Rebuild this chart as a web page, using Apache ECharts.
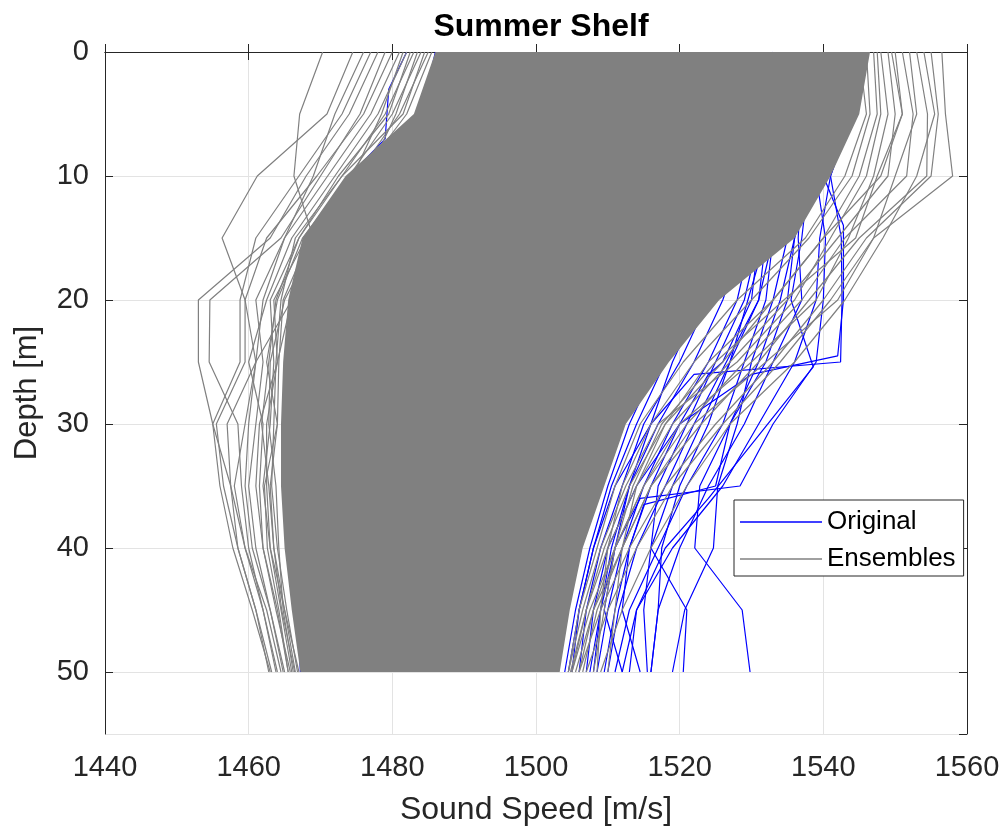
<!DOCTYPE html>
<html>
<head>
<meta charset="utf-8">
<title>Summer Shelf</title>
<script src="https://cdn.jsdelivr.net/npm/echarts@6/dist/echarts.min.js"></script>
<style>
  html, body { margin: 0; padding: 0; background: #fff; }
  #chart { width: 1008px; height: 834px; }
</style>
</head>
<body>
<div id="chart"></div>
<script>
var depths = [0, 5, 10, 15, 20, 25, 30, 35, 40, 45, 50];
var xTicks = [1440, 1560, 20];
var yTicks = [0, 55, 10];

// dense part of the ensemble cloud, left and right edge at each depth
var coreLeft = [1486, 1483, 1473.5, 1467.5, 1465.5, 1464.8, 1464.5, 1464.5, 1465, 1466, 1467.2];
var coreRight = [1546.5, 1545, 1541, 1536, 1525.5, 1518.5, 1512.5, 1509.5, 1506.5, 1504.7, 1503.3];

// ensemble profiles that stick out of the cloud (speed at each depth)
var ensembleSpeeds = [
  [1470.3, 1467.1, 1466.3, 1469, 1466, 1461, 1457, 1457.5, 1459.5, 1462, 1464],
  [1474.5, 1470.9, 1461.2, 1456.3, 1459.5, 1459.5, 1455.5, 1456.5, 1458.5, 1461, 1463.2],
  [1478, 1474, 1468, 1463, 1453, 1453, 1455, 1457.5, 1458.5, 1461, 1462.8],
  [1479, 1475.5, 1470, 1464.5, 1454.6, 1454.5, 1458.5, 1459, 1460, 1462, 1463.8],
  [1477, 1473, 1467, 1461, 1458.8, 1458.8, 1455, 1456, 1457.8, 1460.5, 1463],
  [1480, 1476, 1469.5, 1462.5, 1459.5, 1461, 1459.5, 1458, 1459.5, 1462.5, 1464.5],
  [1481, 1477, 1471, 1465, 1461, 1462, 1461, 1460, 1461, 1463, 1465],
  [1482, 1478, 1472, 1466, 1462.5, 1460, 1462, 1461.5, 1462, 1464, 1465.5],
  [1483, 1479, 1473, 1467, 1463, 1463.5, 1463, 1462, 1463, 1464.5, 1466],
  [1484, 1480, 1474, 1467.5, 1464, 1462.5, 1464, 1463, 1463.5, 1465, 1466.5],
  [1476, 1472, 1469, 1465, 1462, 1461, 1460, 1459.5, 1460.5, 1463, 1464.8],
  [1485, 1481, 1475, 1468, 1463.5, 1464, 1462.5, 1462.5, 1463, 1465, 1467],
  [1483.5, 1480.5, 1476.5, 1471, 1466, 1464, 1461.5, 1461, 1462, 1463.8, 1465.8],
  [1481.5, 1478.5, 1474.5, 1469.5, 1465, 1463, 1462.8, 1463.8, 1464.2, 1464.8, 1466.2],
  [1484.5, 1481.5, 1473, 1466.5, 1464.5, 1463.8, 1463.5, 1463.2, 1464, 1465.3, 1466.8],
  [1482.5, 1479.5, 1472.5, 1467, 1463.8, 1462.8, 1461.8, 1462.8, 1463.5, 1464.6, 1466.4],
  [1485.5, 1482, 1475.5, 1468.5, 1464.8, 1464.2, 1464, 1462.2, 1462.6, 1464.2, 1465.5],
  [1556.5, 1557, 1558, 1547, 1541, 1534, 1526, 1519, 1514, 1510, 1507],
  [1555, 1556, 1555, 1546, 1540, 1533, 1525, 1518, 1513, 1509, 1506],
  [1553, 1554.5, 1554.4, 1545, 1538, 1531, 1523, 1516, 1512, 1508, 1505.5],
  [1551, 1552.5, 1551.6, 1543, 1537, 1529, 1521, 1515, 1511, 1507.5, 1505],
  [1549, 1550, 1549, 1542, 1535, 1527, 1519, 1514, 1510, 1507, 1504.8],
  [1548, 1549, 1547, 1543.5, 1539, 1530, 1520, 1515, 1511, 1508, 1506],
  [1552, 1553, 1550, 1547, 1542, 1532, 1522, 1516, 1512, 1508.5, 1506.5],
  [1550, 1551, 1548, 1540, 1533, 1526, 1518, 1513, 1509.5, 1507, 1505],
  [1547.5, 1548, 1546, 1541, 1536, 1528, 1517, 1512.5, 1509, 1506.5, 1504.5],
  [1546, 1546.5, 1544, 1538, 1530, 1522, 1516, 1512, 1510, 1509, 1508.5],
  [1547, 1547.5, 1545, 1540, 1533, 1524, 1518, 1514, 1512, 1511, 1510],
  [1554, 1555.5, 1553, 1548.3, 1543, 1536, 1527, 1521, 1516, 1512, 1509],
  [1545, 1546, 1543, 1537.5, 1528, 1520.5, 1514.5, 1511, 1508.5, 1506, 1504.5],
  [1549.5, 1551, 1547.5, 1544.5, 1534.5, 1525, 1517.5, 1513.5, 1511, 1509.5, 1508]
];

// measured profiles, [speed, depth] points
var originalProfiles = [
  [[1482, 0], [1479.5, 3], [1479, 7], [1474, 10], [1468, 15], [1466, 20], [1466, 25], [1466, 30], [1466.5, 35], [1466.8, 40], [1466.8, 45], [1467.2, 50]],
  [[1486, 0], [1484, 5], [1480, 10], [1472, 15], [1468, 20], [1467, 25], [1467, 30], [1467, 35], [1467, 40], [1467, 45], [1467.5, 50]],
  [[1545, 0], [1544, 5], [1541, 10], [1542.5, 15], [1542.6, 20], [1542.4, 25], [1522, 26], [1516, 30], [1511, 35], [1508, 40], [1506, 45], [1505, 50]],
  [[1544, 0], [1543, 5], [1540, 10], [1542.8, 14], [1542.8, 20], [1542, 24.5], [1530, 26], [1520, 30], [1514, 35], [1510, 40], [1508, 45], [1507, 50]],
  [[1543, 0], [1542, 5], [1539, 10], [1540.3, 15], [1540, 20], [1539, 25], [1533, 30], [1528.4, 35], [1514.5, 36], [1511, 40], [1509, 45], [1507.5, 50]],
  [[1542, 0], [1541, 5], [1538, 10], [1537, 15], [1535.5, 20], [1538.6, 25.4], [1530.2, 31.5], [1524, 36], [1518, 40], [1514, 45], [1512, 50]],
  [[1540, 0], [1539, 5], [1537, 10], [1536, 15], [1534, 20], [1531, 25], [1527, 30], [1522.8, 35], [1522.1, 40], [1528.7, 45], [1529.8, 50]],
  [[1541, 0], [1540, 5], [1537, 10], [1535, 15], [1533, 20], [1530, 25], [1528, 30], [1525.3, 35], [1524.7, 40], [1520.7, 45], [1519, 50]],
  [[1538, 0], [1537, 5], [1535, 10], [1533, 15], [1531, 20], [1527, 25], [1523, 30], [1519, 35], [1516, 40], [1515, 45], [1515.5, 50]],
  [[1537, 0], [1536, 5], [1534, 10], [1531, 15], [1529, 20], [1525, 25], [1521, 30], [1517, 35], [1516, 40], [1521, 45], [1520.5, 50]],
  [[1536, 0], [1535, 5], [1533, 10], [1530, 15], [1528, 20], [1524, 25], [1519, 30], [1515, 35], [1512, 40], [1510, 45], [1508.5, 50]],
  [[1535, 0], [1534, 5], [1532, 10], [1529, 15], [1526, 20], [1522, 25], [1517, 30], [1513, 35], [1510.5, 40], [1509, 45], [1508, 50]],
  [[1534, 0], [1533, 5], [1530, 10], [1527, 15], [1524, 20], [1520, 25], [1515, 30], [1512, 35], [1509, 40], [1507, 45], [1506, 50]],
  [[1533, 0], [1531, 5], [1528, 10], [1525, 15], [1522, 20], [1518, 25], [1514, 30], [1510.5, 35], [1508, 40], [1506, 45], [1504.5, 50]],
  [[1539, 0], [1538, 5], [1536, 10], [1533, 15], [1532, 20], [1529, 25], [1526, 30], [1521, 35], [1517, 40], [1513, 45], [1511, 50]],
  [[1540, 0], [1539, 5], [1537, 10], [1536.5, 15], [1537, 20], [1533, 25], [1529, 30], [1524, 35], [1520, 40], [1517, 45], [1516, 50]],
  [[1545, 0], [1544, 5], [1541, 10], [1539.5, 15], [1539, 20], [1536, 25], [1531, 30], [1526, 35], [1519, 40], [1514, 45], [1513, 50]],
  [[1538, 0], [1537, 5], [1535, 10], [1532, 15], [1531, 20], [1526.5, 25], [1522, 30], [1518, 35], [1514, 40], [1511.5, 45], [1510, 50]],
  [[1530, 0], [1529, 5], [1527, 10], [1524, 15], [1521, 20], [1517, 25], [1513, 30], [1510, 35], [1507.5, 40], [1505.5, 45], [1504, 50]],
  [[1536, 0], [1535, 5], [1533, 10], [1531, 15], [1530, 20], [1526, 25], [1524, 26], [1520, 30], [1516, 35], [1513, 40], [1511, 45], [1509.5, 50]],
  [[1541, 0], [1540, 5], [1538, 10], [1536, 15], [1535, 20], [1532, 25], [1527, 30], [1525, 35], [1515, 36.5], [1513, 40], [1512, 45], [1514.5, 50]],
  [[1537, 0], [1536, 5], [1534, 10], [1532, 15], [1529.5, 20], [1527, 25], [1524, 30], [1520, 35], [1517.5, 40], [1517, 45], [1516, 50]],
  [[1532, 0], [1531, 5], [1529, 10], [1526, 15], [1523, 20], [1519, 25], [1516, 30], [1513, 35], [1511, 40], [1509.5, 45], [1512, 50]]
];

var textColor = '#262626';
var font = 'Liberation Sans, Arial, Helvetica, sans-serif';
var chart = echarts.init(document.getElementById('chart'));

var series = [];

originalProfiles.forEach(function(p) {
  series.push({
    name: 'Original',
    type: 'line',
    data: p,
    symbol: 'none',
    z: 1,
    silent: true,
    lineStyle: { color: '#0000ff', width: 1.2 },
    itemStyle: { color: '#0000ff' }
  });
});

series.push({
  name: 'cloud',
  type: 'custom',
  z: 2,
  silent: true,
  clip: true,
  data: [[coreLeft[0], depths[0]]],
  renderItem: function(params, api) {
    var pts = [];
    for (var i = 0; i < depths.length; i++) pts.push(api.coord([coreLeft[i], depths[i]]));
    for (var j = depths.length - 1; j >= 0; j--) pts.push(api.coord([coreRight[j], depths[j]]));
    return { type: 'polygon', shape: { points: pts }, style: { fill: '#808080' } };
  }
});

ensembleSpeeds.forEach(function(s) {
  series.push({
    name: 'Ensembles',
    type: 'line',
    data: depths.map(function(d, i) { return [s[i], d]; }),
    symbol: 'none',
    z: 3,
    silent: true,
    lineStyle: { color: '#808080', width: 1.2 },
    itemStyle: { color: '#808080' }
  });
});

var boxAxis = {
  axisLine: { show: true, lineStyle: { color: textColor, width: 1 } },
  axisTick: { show: true, inside: true, length: 8, lineStyle: { color: textColor } },
  axisLabel: { show: false },
  splitLine: { show: false }
};

function plain(v) { return String(v); }

option = {
  animation: false,
  backgroundColor: '#fff',
  title: {
    text: 'Summer Shelf',
    left: 536,
    top: 6,
    textAlign: 'center',
    textStyle: { fontFamily: font, fontSize: 32, fontWeight: 'bold', color: '#000' }
  },
  grid: { left: 105, right: 41, top: 52, bottom: 100 },
  legend: {
    data: ['Original', 'Ensembles'],
    orient: 'vertical',
    left: 734,
    top: 500,
    icon: 'rect',
    itemWidth: 82,
    itemHeight: 1.5,
    itemGap: 11,
    padding: [9, 8, 4, 6],
    borderColor: textColor,
    borderWidth: 1,
    backgroundColor: '#fff',
    selectedMode: false,
    textStyle: { fontFamily: font, fontSize: 26, lineHeight: 26, color: '#000' }
  },
  xAxis: [
    {
      type: 'value',
      position: 'bottom',
      min: xTicks[0], max: xTicks[1], interval: xTicks[2],
      name: 'Sound Speed [m/s]',
      nameLocation: 'middle',
      nameGap: 60,
      nameTextStyle: { fontFamily: font, fontSize: 32, color: textColor },
      axisLine: { show: true, lineStyle: { color: textColor, width: 1 } },
      axisTick: { show: true, inside: true, length: 8, lineStyle: { color: textColor } },
      axisLabel: { fontFamily: font, fontSize: 29, color: textColor, margin: 19, formatter: plain },
      splitLine: { show: true, lineStyle: { color: '#e3e3e3', width: 1 } }
    },
    Object.assign({ type: 'value', position: 'top', min: xTicks[0], max: xTicks[1], interval: xTicks[2] }, boxAxis)
  ],
  yAxis: [
    {
      type: 'value',
      position: 'left',
      inverse: true,
      min: yTicks[0], max: yTicks[1], interval: yTicks[2],
      name: 'Depth [m]',
      nameLocation: 'middle',
      nameGap: 62,
      nameTextStyle: { fontFamily: font, fontSize: 31, color: textColor },
      axisLine: { show: true, lineStyle: { color: textColor, width: 1 } },
      axisTick: { show: true, inside: true, length: 8, lineStyle: { color: textColor } },
      axisLabel: { fontFamily: font, fontSize: 29, color: textColor, margin: 16, showMaxLabel: false, formatter: plain },
      splitLine: { show: true, lineStyle: { color: '#e3e3e3', width: 1 } }
    },
    Object.assign({ type: 'value', position: 'right', inverse: true, min: yTicks[0], max: yTicks[1], interval: yTicks[2] }, boxAxis)
  ],
  series: series
};

chart.setOption(option);
</script>
</body>
</html>
